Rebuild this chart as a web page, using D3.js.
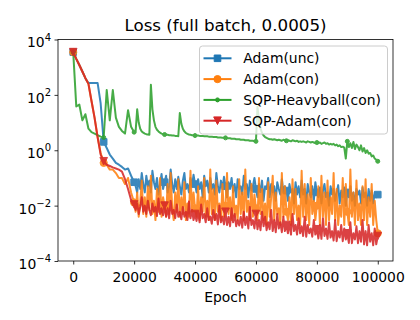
<!DOCTYPE html>
<html>
<head>
<meta charset="utf-8">
<script src="https://cdn.jsdelivr.net/npm/d3@7"></script>
<style>
  body { margin: 0; background: #fff; }
  svg text { font-family: 'DejaVu Sans', sans-serif; fill: #000; }
</style>
</head>
<body>
<div class="chart"></div>
<script>
// loss logged every 1000 epochs up to 20000, then every 500
const epochs = d3.range(0, 20000, 1000).concat(d3.range(20000, 100001, 500));

const adamUnc = [
  3500, 2000, 1200, 700, 400, 270, 270, 270, 270, 50, 2,
  1.2, 0.7, 0.5, 0.35, 0.3, 0.25, 0.2, 0.22, 0.12, 0.07,
  0.05, 0.03, 0.09, 0.04, 0.15, 0.06, 0.03, 0.12, 0.05, 0.08,
  0.03, 0.18, 0.07, 0.04, 0.1, 0.025, 0.06, 0.14, 0.04, 0.07,
  0.12, 0.03, 0.05, 0.2, 0.06, 0.03, 0.09, 0.04, 0.11, 0.05,
  0.025, 0.08, 0.15, 0.04, 0.06, 0.03, 0.1, 0.05, 0.13, 0.06,
  0.03, 0.09, 0.04, 0.07, 0.02, 0.12, 0.05, 0.08, 0.03, 0.1,
  0.04, 0.06, 0.025, 0.15, 0.05, 0.03, 0.08, 0.04, 0.11, 0.05,
  0.02, 0.07, 0.04, 0.1, 0.03, 0.06, 0.02, 0.09, 0.04, 0.05,
  0.025, 0.12, 0.04, 0.06, 0.02, 0.08, 0.035, 0.05, 0.1, 0.04,
  0.02, 0.06, 0.03, 0.08, 0.015, 0.05, 0.04, 0.1, 0.02, 0.06,
  0.03, 0.05, 0.015, 0.07, 0.04, 0.025, 0.09, 0.03, 0.05, 0.035,
  0.015, 0.06, 0.03, 0.04, 0.012, 0.07, 0.025, 0.05, 0.02, 0.08,
  0.025, 0.04, 0.012, 0.06, 0.03, 0.02, 0.05, 0.015, 0.07, 0.03,
  0.02, 0.045, 0.012, 0.035, 0.06, 0.02, 0.03, 0.01, 0.05, 0.025,
  0.04, 0.015, 0.03, 0.055, 0.012, 0.035, 0.02, 0.045, 0.01, 0.03,
  0.02, 0.05, 0.015, 0.03, 0.01, 0.04, 0.025, 0.035, 0.012, 0.045,
  0.02, 0.03, 0.01, 0.04, 0.015, 0.035, 0.012, 0.03, 0.02, 0.025
];

const adamCon = [
  3500, 2000, 1200, 700, 400, 250, 60, 15, 3, 0.8, 0.35,
  0.3, 0.2, 0.2, 0.15, 0.1, 0.1, 0.06, 0.1, 0.03, 0.013,
  0.006, 0.03, 0.004, 0.012, 0.08, 0.005, 0.02, 0.004, 0.05, 0.007,
  0.12, 0.005, 0.015, 0.003, 0.04, 0.006, 0.1, 0.004, 0.02, 0.01,
  0.004, 0.06, 0.005, 0.15, 0.008, 0.003, 0.03, 0.006, 0.09, 0.004,
  0.02, 0.005, 0.07, 0.003, 0.012, 0.004, 0.18, 0.006, 0.03, 0.008,
  0.004, 0.05, 0.003, 0.02, 0.006, 0.1, 0.004, 0.015, 0.003, 0.2,
  0.005, 0.04, 0.003, 0.08, 0.006, 0.012, 0.003, 0.06, 0.004, 0.01,
  0.15, 0.005, 0.02, 0.003, 0.05, 0.004, 0.01, 0.003, 0.09, 0.005,
  0.03, 0.003, 0.2, 0.006, 0.015, 0.003, 0.06, 0.004, 0.025, 0.008,
  0.003, 0.1, 0.005, 0.04, 0.003, 0.012, 0.002, 0.07, 0.004, 0.02,
  0.12, 0.003, 0.03, 0.005, 0.008, 0.002, 0.15, 0.004, 0.05, 0.006,
  0.003, 0.02, 0.002, 0.09, 0.005, 0.04, 0.003, 0.01, 0.002, 0.18,
  0.004, 0.06, 0.003, 0.025, 0.002, 0.1, 0.005, 0.015, 0.003, 0.01,
  0.05, 0.002, 0.12, 0.004, 0.03, 0.002, 0.08, 0.003, 0.02, 0.005,
  0.15, 0.003, 0.04, 0.002, 0.01, 0.004, 0.1, 0.002, 0.06, 0.006,
  0.002, 0.2, 0.004, 0.03, 0.002, 0.08, 0.003, 0.012, 0.002, 0.05,
  0.003, 0.09, 0.002, 0.02, 0.004, 0.06, 0.002, 0.015, 0.003, 0.001
];

const sqpHeavyball = [
  3500, 38, 45, 12, 20, 6, 4.5, 4, 3.5, 3.1, 2.9,
  150, 12, 150, 15, 7, 5, 4, 28, 7, 4.5,
  5, 30, 10, 6, 4.8, 4.3, 4, 3.8, 3.7, 3.6,
  230, 30, 12, 7, 5.5, 4.8, 4.3, 4, 3.8, 3.7,
  3.6, 3.6, 3.5, 3.5, 3.4, 3.4, 3.3, 3.3, 3.2, 22,
  9, 6, 4.8, 4.2, 3.9, 3.7, 3.6, 3.5, 3.5, 3.4,
  3.4, 3.4, 3.3, 3.3, 3.3, 3.2, 3.2, 3.2, 3.1, 3.1,
  3.1, 3.0, 3.0, 3.0, 2.9, 2.9, 2.9, 2.8, 2.8, 2.8,
  2.7, 2.7, 2.7, 2.6, 2.6, 2.6, 2.5, 2.5, 2.5, 2.4,
  2.4, 2.4, 2.3, 2.3, 2.3, 2.2, 2.2, 2.2, 2.1, 2.1,
  37, 12, 6, 4.2, 3.4, 3.0, 2.8, 2.6, 2.5, 2.5,
  2.4, 2.5, 2.4, 2.3, 2.4, 2.3, 2.2, 2.4, 2.3, 2.2,
  2.3, 2.2, 2.1, 2.3, 2.2, 2.1, 2.2, 2.0, 2.1, 2.0,
  2.1, 2.0, 1.9, 2.1, 2.0, 1.9, 2.0, 1.9, 1.8, 1.9,
  1.8, 1.9, 1.7, 1.8, 1.9, 1.7, 1.8, 1.6, 1.7, 1.6,
  1.7, 1.5, 1.6, 1.4, 1.5, 1.3, 1.35, 1.25, 0.5, 2.1,
  1.3, 1.8, 1.2, 2.0, 1.1, 1.6, 1.3, 1.0, 1.5, 0.9,
  1.2, 0.8, 1.0, 0.75, 0.8, 0.6, 0.65, 0.5, 0.45, 0.4
];

const sqpAdam = [
  3500, 2000, 1200, 700, 400, 250, 60, 15, 3, 0.7, 0.4,
  0.3, 0.27, 0.24, 0.22, 0.2, 0.17, 0.09, 0.04, 0.016, 0.011,
  0.007, 0.012, 0.005, 0.009, 0.02, 0.006, 0.01, 0.005, 0.015, 0.007,
  0.0045, 0.012, 0.006, 0.009, 0.0042, 0.018, 0.005, 0.008, 0.0045, 0.01,
  0.004, 0.008, 0.0035, 0.015, 0.005, 0.007, 0.0035, 0.011, 0.004, 0.006,
  0.0032, 0.009, 0.004, 0.006, 0.003, 0.014, 0.0035, 0.007, 0.003, 0.005,
  0.0028, 0.006, 0.0025, 0.011, 0.0035, 0.005, 0.0025, 0.008, 0.003, 0.004,
  0.0022, 0.007, 0.003, 0.005, 0.0021, 0.01, 0.0025, 0.004, 0.0021, 0.006,
  0.002, 0.004, 0.0018, 0.008, 0.0025, 0.005, 0.0018, 0.003, 0.0019, 0.004,
  0.0016, 0.006, 0.002, 0.004, 0.0015, 0.009, 0.002, 0.003, 0.0015, 0.005,
  0.0014, 0.003, 0.0013, 0.006, 0.0018, 0.004, 0.0013, 0.0025, 0.0014, 0.007,
  0.0012, 0.003, 0.0011, 0.005, 0.0015, 0.0025, 0.0011, 0.004, 0.0012, 0.002,
  0.001, 0.0025, 0.0009, 0.005, 0.0012, 0.002, 0.0009, 0.0035, 0.001, 0.0018,
  0.0008, 0.004, 0.00075, 0.002, 0.001, 0.0015, 0.00075, 0.003, 0.0009, 0.0014,
  0.00065, 0.002, 0.00063, 0.0035, 0.0008, 0.0015, 0.00063, 0.0025, 0.0007, 0.0012,
  0.00055, 0.003, 0.00052, 0.0012, 0.0007, 0.002, 0.00052, 0.0015, 0.0006, 0.001,
  0.00045, 0.0025, 0.00044, 0.001, 0.0006, 0.0018, 0.00044, 0.0012, 0.0005, 0.003,
  0.0004, 0.0012, 0.00037, 0.002, 0.0005, 0.001, 0.00037, 0.0015, 0.0004, 0.0008
];

const seriesNames = ['Adam(unc)', 'Adam(con)', 'SQP-Heavyball(con)', 'SQP-Adam(con)'];
const xTicks = [0, 20000, 40000, 60000, 80000, 100000];
const yTicks = [1e-4, 1e-2, 1, 1e2, 1e4];
const yTickExp = ['\u22124', '\u22122', '0', '2', '4'];

(() => {
  let width = 420;
  let height = 320;
  let left = 58, right = 393, top = 39.5, bottom = 261;

  let series = [
    { name: seriesNames[0], values: adamUnc, color: '#1f77b4', marker: 'square' },
    { name: seriesNames[1], values: adamCon, color: '#ff7f0e', marker: 'circle' },
    { name: seriesNames[2], values: sqpHeavyball, color: '#2ca02c', marker: 'dot' },
    { name: seriesNames[3], values: sqpAdam, color: '#d62728', marker: 'tri' }
  ];

  let svg = d3
    .select('.chart')
    .append('svg')
    .attr('width', width)
    .attr('height', height);

  svg.append('rect').attr('width', width).attr('height', height).attr('fill', '#fff');

  let x = d3.scaleLinear().domain([-5000, 105000]).range([left, right]);
  let y = d3.scaleLog().domain([1e-4, 1e4]).range([bottom, top]);

  svg.append('clipPath')
    .attr('id', 'plot')
    .append('rect')
    .attr('x', left).attr('y', top)
    .attr('width', right - left).attr('height', bottom - top);

  let markerPath = (type) => {
    if (type === 'square') return 'M-3.3,-3.3H3.3V3.3H-3.3Z';
    if (type === 'circle') return d3.symbol(d3.symbolCircle, Math.PI * 3.6 * 3.6)();
    if (type === 'dot') return d3.symbol(d3.symbolCircle, Math.PI * 2 * 2)();
    return 'M-3.8,-3.8L3.8,-3.8L0,3.8Z';
  };

  let line = d3.line()
    .x((d, i) => x(epochs[i]))
    .y(d => y(d));

  let plot = svg.append('g').attr('clip-path', 'url(#plot)');

  series.forEach(s => {
    let pts = s.values.map((v, i) => [epochs[i], v]);
    let g = plot.append('g').attr('opacity', 0.87);
    g.append('path')
      .attr('d', line(s.values))
      .attr('fill', 'none')
      .attr('stroke', s.color)
      .attr('stroke-width', 2)
      .attr('stroke-linejoin', 'round');

    // a marker every 10000 epochs
    g.selectAll('path.mk')
      .data(pts.filter(p => p[0] % 10000 === 0))
      .enter()
      .append('path')
      .attr('class', 'mk')
      .attr('d', markerPath(s.marker))
      .attr('transform', p => `translate(${x(p[0])},${y(p[1])})`)
      .attr('fill', s.color)
      .attr('stroke', s.color)
      .attr('stroke-width', 1);
  });

  // axes
  let xAxis = svg.append('g')
    .attr('transform', `translate(0,${bottom})`)
    .call(d3.axisBottom(x).tickValues(xTicks).tickSize(3.5).tickPadding(3.5).tickFormat(d3.format('d')));
  xAxis.selectAll('text').attr('font-size', 13.9).attr('dy', null).attr('y', 20.7);

  let yAxis = svg.append('g')
    .attr('transform', `translate(${left},0)`)
    .call(d3.axisLeft(y).tickValues(yTicks).tickSize(3.5).tickFormat(''));
  yAxis.selectAll('.tick')
    .append('text')
    .attr('x', -7)
    .attr('y', 7.4)
    .attr('text-anchor', 'end')
    .attr('font-size', 13.9)
    .each(function(d, i) {
      let t = d3.select(this);
      t.append('tspan').text('10');
      t.append('tspan').attr('font-size', 10).attr('dy', -6.7).text(yTickExp[i]);
    });

  svg.selectAll('.domain').remove();
  svg.selectAll('.tick line').attr('stroke', '#000').attr('stroke-width', 0.8);

  svg.append('rect')
    .attr('x', left).attr('y', top)
    .attr('width', right - left).attr('height', bottom - top)
    .attr('fill', 'none')
    .attr('stroke', '#000')
    .attr('stroke-width', 0.8);

  svg.append('text')
    .attr('x', (left + right) / 2).attr('y', 31)
    .attr('text-anchor', 'middle')
    .attr('font-size', 16.7)
    .text('Loss (full batch, 0.0005)');

  svg.append('text')
    .attr('x', (left + right) / 2).attr('y', 302)
    .attr('text-anchor', 'middle')
    .attr('font-size', 13.9)
    .text('Epoch');

  // legend
  let legend = svg.append('g');
  legend.append('rect')
    .attr('x', 199.5).attr('y', 46)
    .attr('width', 188).attr('height', 88)
    .attr('rx', 3)
    .attr('fill', '#fff')
    .attr('fill-opacity', 0.8)
    .attr('stroke', '#ccc')
    .attr('stroke-width', 1);

  let rows = legend.selectAll('g.row')
    .data(series)
    .enter()
    .append('g')
    .attr('class', 'row')
    .attr('transform', (d, i) => `translate(0,${58.3 + i * 20.8})`);

  rows.append('line')
    .attr('x1', 203.5).attr('x2', 231.5)
    .attr('stroke', d => d.color)
    .attr('stroke-width', 2);
  rows.append('path')
    .attr('d', d => markerPath(d.marker))
    .attr('transform', 'translate(217.5,0)')
    .attr('fill', d => d.color)
    .attr('stroke', d => d.color)
    .attr('stroke-width', 1);
  rows.append('text')
    .attr('x', 243.3).attr('y', 5)
    .attr('font-size', 13.9)
    .text(d => d.name);
})();
</script>
</body>
</html>
